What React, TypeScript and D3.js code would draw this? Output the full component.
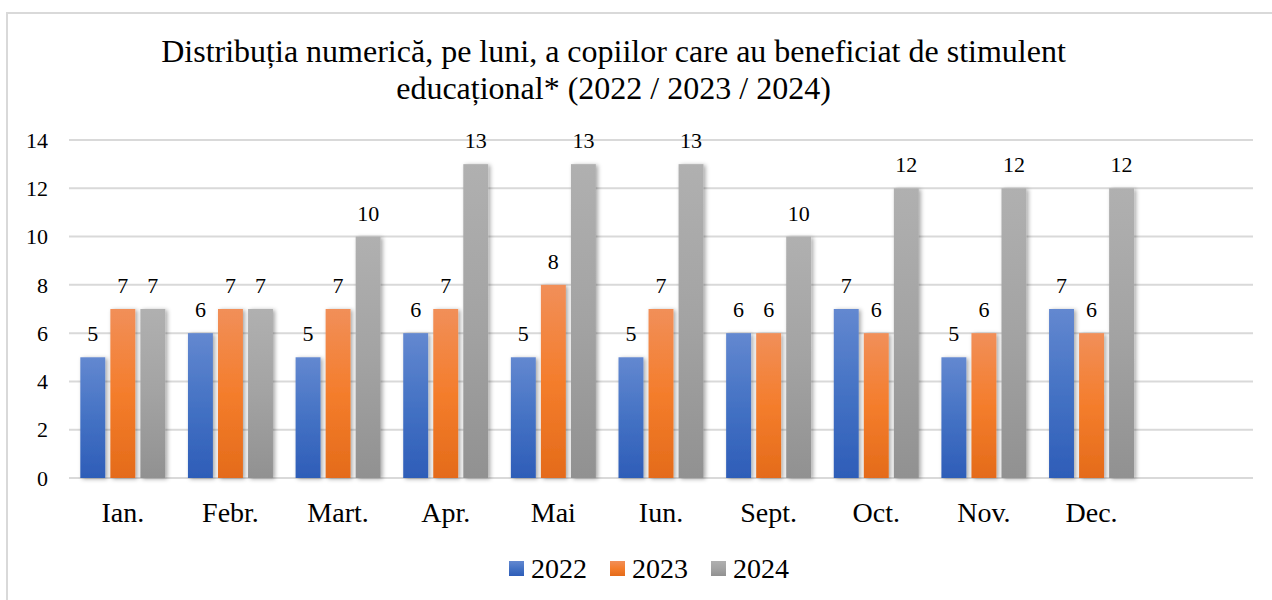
import { useEffect, useRef } from 'react';
import * as d3 from 'd3';

const months = ['Ian.', 'Febr.', 'Mart.', 'Apr.', 'Mai', 'Iun.', 'Sept.', 'Oct.', 'Nov.', 'Dec.', ''];
const years = ['2022', '2023', '2024'];
const values2022 = [5, 6, 5, 6, 5, 5, 6, 7, 5, 7];
const values2023 = [7, 7, 7, 7, 8, 7, 6, 6, 6, 6];
const values2024 = [7, 7, 10, 13, 13, 13, 10, 12, 12, 12];
const yTicks = [0, 2, 4, 6, 8, 10, 12, 14];
const titleLines = [
  'Distribuția numerică, pe luni, a copiilor care au beneficiat de stimulent',
  'educațional* (2022 / 2023 / 2024)',
];

// gradient stops per series: top, middle, bottom
const gradients = [
  ['#6388d0', '#4472c4', '#2e5db8'],
  ['#f18f59', '#f47d2c', '#e46b1a'],
  ['#b0b0b0', '#a3a3a3', '#919191'],
];

const width = 1272;
const height = 600;

export default function App() {
  const svgRef = useRef<SVGSVGElement>(null);

  useEffect(() => {
    if (!svgRef.current) return;
    const svg = d3.select(svgRef.current);
    svg.selectAll('*').remove();

    const serif = '"Liberation Serif", "Times New Roman", serif';
    const series = [values2022, values2023, values2024];

    const defs = svg.append('defs');
    gradients.forEach((stops, i) => {
      const lg = defs.append('linearGradient')
        .attr('id', `grad-${i}`)
        .attr('x1', 0).attr('y1', 0).attr('x2', 0).attr('y2', 1);
      lg.append('stop').attr('offset', '0%').attr('stop-color', stops[0]);
      lg.append('stop').attr('offset', '50%').attr('stop-color', stops[1]);
      lg.append('stop').attr('offset', '100%').attr('stop-color', stops[2]);
    });
    const filter = defs.append('filter').attr('id', 'shadow')
      .attr('x', '-30%').attr('y', '-10%').attr('width', '160%').attr('height', '120%');
    filter.append('feDropShadow')
      .attr('dx', 2).attr('dy', 1).attr('stdDeviation', 2)
      .attr('flood-color', '#000').attr('flood-opacity', 0.35);

    // chart border
    svg.append('rect')
      .attr('x', 7).attr('y', 13)
      .attr('width', width + 20).attr('height', height + 20)
      .attr('fill', '#fff')
      .attr('stroke', '#d9d9d9').attr('stroke-width', 2);

    // title
    const title = svg.append('text')
      .attr('text-anchor', 'middle')
      .attr('font-family', serif)
      .attr('font-size', 32)
      .attr('fill', '#000');
    titleLines.forEach((line, i) => {
      title.append('tspan')
        .attr('x', 613.5)
        .attr('y', 62 + i * 37)
        .text(line);
    });

    const x0 = d3.scaleBand().domain(months).range([69, 1253]).paddingInner(0).paddingOuter(0);
    const y = d3.scaleLinear().domain([0, 14]).range([478, 140]);
    const groupWidth = 85;
    const x1 = d3.scaleBand().domain(years).range([0, groupWidth]).paddingInner(0.17).paddingOuter(0);

    // gridlines
    svg.append('g')
      .selectAll('line')
      .data(yTicks)
      .enter().append('line')
      .attr('x1', 69).attr('x2', 1253)
      .attr('y1', d => y(d)).attr('y2', d => y(d))
      .attr('stroke', '#d9d9d9').attr('stroke-width', 2);

    // y labels
    svg.append('g')
      .selectAll('text')
      .data(yTicks)
      .enter().append('text')
      .attr('x', 48)
      .attr('y', d => y(d))
      .attr('dy', '0.35em')
      .attr('text-anchor', 'end')
      .attr('font-family', serif)
      .attr('font-size', 22)
      .text(d => d);

    // bars
    series.forEach((vals, si) => {
      const g = svg.append('g');
      g.selectAll('rect')
        .data(vals)
        .enter().append('rect')
        .attr('x', (_, i) => (x0(months[i]) || 0) + (x0.bandwidth() - groupWidth) / 2 + (x1(years[si]) || 0))
        .attr('y', d => y(d))
        .attr('width', x1.bandwidth())
        .attr('height', d => y(0) - y(d))
        .attr('fill', `url(#grad-${si})`)
        .attr('filter', 'url(#shadow)');

      g.selectAll('text')
        .data(vals)
        .enter().append('text')
        .attr('x', (_, i) => (x0(months[i]) || 0) + (x0.bandwidth() - groupWidth) / 2 + (x1(years[si]) || 0) + x1.bandwidth() / 2)
        .attr('y', d => y(d) - 16)
        .attr('text-anchor', 'middle')
        .attr('font-family', serif)
        .attr('font-size', 22)
        .text(d => d);
    });

    // x labels
    svg.append('g')
      .selectAll('text')
      .data(months)
      .enter().append('text')
      .attr('x', d => (x0(d) || 0) + x0.bandwidth() / 2)
      .attr('y', 522)
      .attr('text-anchor', 'middle')
      .attr('font-family', serif)
      .attr('font-size', 28)
      .text(d => d);

    // legend
    const legend = svg.append('g').attr('transform', 'translate(509, 561)');
    years.forEach((yr, i) => {
      const item = legend.append('g').attr('transform', `translate(${i * 101}, 0)`);
      item.append('rect')
        .attr('width', 15).attr('height', 15)
        .attr('fill', `url(#grad-${i})`);
      item.append('text')
        .attr('x', 22)
        .attr('y', 7.5)
        .attr('dy', '0.35em')
        .attr('font-family', serif)
        .attr('font-size', 28)
        .text(yr);
    });
  }, []);

  return (
    <svg
      ref={svgRef}
      width={width}
      height={height}
      style={{ position: 'absolute', left: 0, top: 0, background: '#fff' }}
    />
  );
}
